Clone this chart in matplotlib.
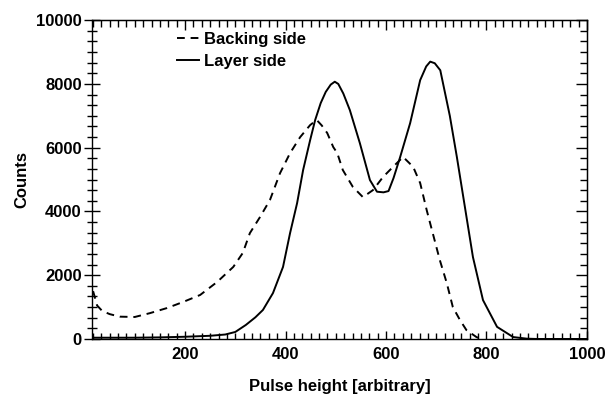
import matplotlib
matplotlib.use("Agg")
import matplotlib.pyplot as plt
from matplotlib.ticker import MultipleLocator

plt.rcParams['font.family'] = ['Liberation Sans', 'DejaVu Sans']
plt.rcParams['font.weight'] = 'bold'

# Layer side (solid)
layer_x = [15, 50, 100, 150, 200, 250, 280, 300, 321, 340, 355, 375, 395, 409, 423,
           435, 449, 459, 470, 480, 490, 498, 505, 515, 528, 548, 568, 582, 595,
           605, 615, 628, 648, 668, 680, 688, 697, 708, 727, 741, 757, 773, 793,
           821, 853, 880, 900, 950, 1000]
layer_y = [40, 40, 40, 50, 70, 100, 140, 220, 440, 680, 910, 1440, 2260, 3320, 4260,
           5300, 6240, 6870, 7400, 7750, 7980, 8070, 8000, 7700, 7180, 6140, 4985, 4620, 4600,
           4640, 5050, 5700, 6770, 8120, 8550, 8700, 8650, 8430, 7000, 5710, 4140, 2570, 1220,
           380, 60, 10, 0, 0, 0]

# Backing side (dashed)
back_x = [17, 25, 35, 50, 70, 100, 130, 164, 196, 230, 264, 296, 315, 329, 349,
          369, 389, 409, 429, 449, 462, 472, 483, 495, 503, 514, 534, 554, 574, 594,
          614, 634, 654, 668, 681, 693, 707, 721, 733, 747, 760, 780, 790]
back_y = [1500, 1050, 880, 780, 700, 690, 810, 970, 1160, 1380, 1790, 2260, 2700, 3320, 3820,
          4360, 5200, 5830, 6330, 6710, 6870, 6700, 6460, 6020, 5830, 5300, 4770, 4450, 4670, 5080,
          5400, 5710, 5400, 4890, 4040, 3320, 2480, 1750, 1000, 600, 280, 60, 0]

x_ticks = [200, 400, 600, 800, 1000]
y_ticks = [0, 2000, 4000, 6000, 8000, 10000]

fig = plt.figure(figsize=(6.14, 3.96), dpi=100)
ax = fig.add_axes([0.150, 0.144, 0.806, 0.805])

ax.plot(back_x, back_y, color='black', lw=1.4, linestyle=(0, (4, 3)), label='Backing side')
ax.plot(layer_x, layer_y, color='black', lw=1.4, label='Layer side')

ax.set_xlim(15, 1000)
ax.set_ylim(0, 10000)
ax.set_xticks(x_ticks)
ax.set_yticks(y_ticks)
ax.xaxis.set_minor_locator(MultipleLocator(100 / 6))
ax.yaxis.set_minor_locator(MultipleLocator(2000 / 6))

for s in ax.spines.values():
    s.set_linewidth(1.0)

ax.tick_params(axis='x', which='major', direction='in', length=6, width=1.0, labelsize=12, pad=6)
ax.tick_params(axis='x', which='minor', direction='in', length=4, width=1.0)
ax.tick_params(axis='y', which='major', direction='inout', length=11, width=1.0, labelsize=12, pad=2)
ax.tick_params(axis='y', which='minor', direction='inout', length=7, width=1.0)

secx = ax.secondary_xaxis('top')
secx.set_xticks(x_ticks)
secx.xaxis.set_minor_locator(MultipleLocator(100 / 6))
secx.tick_params(axis='x', which='major', direction='in', length=7, width=1.0, labeltop=False)
secx.tick_params(axis='x', which='minor', direction='in', length=5, width=1.0)

secy = ax.secondary_yaxis('right')
secy.set_yticks(y_ticks)
secy.yaxis.set_minor_locator(MultipleLocator(2000 / 6))
secy.tick_params(axis='y', which='major', direction='in', length=8, width=1.0, labelright=False)
secy.tick_params(axis='y', which='minor', direction='in', length=5, width=1.0)

ax.set_xlabel('Pulse height [arbitrary]', fontsize=12, fontweight='bold', labelpad=12)
ax.set_ylabel('Counts', fontsize=12, fontweight='bold', labelpad=5)

leg = ax.legend(loc='upper left', bbox_to_anchor=(0.172, 0.962), frameon=False,
                fontsize=12, handlelength=1.3, handletextpad=0.3, labelspacing=0.42,
                borderpad=0, borderaxespad=0)

fig.savefig('out.png', dpi=100)
